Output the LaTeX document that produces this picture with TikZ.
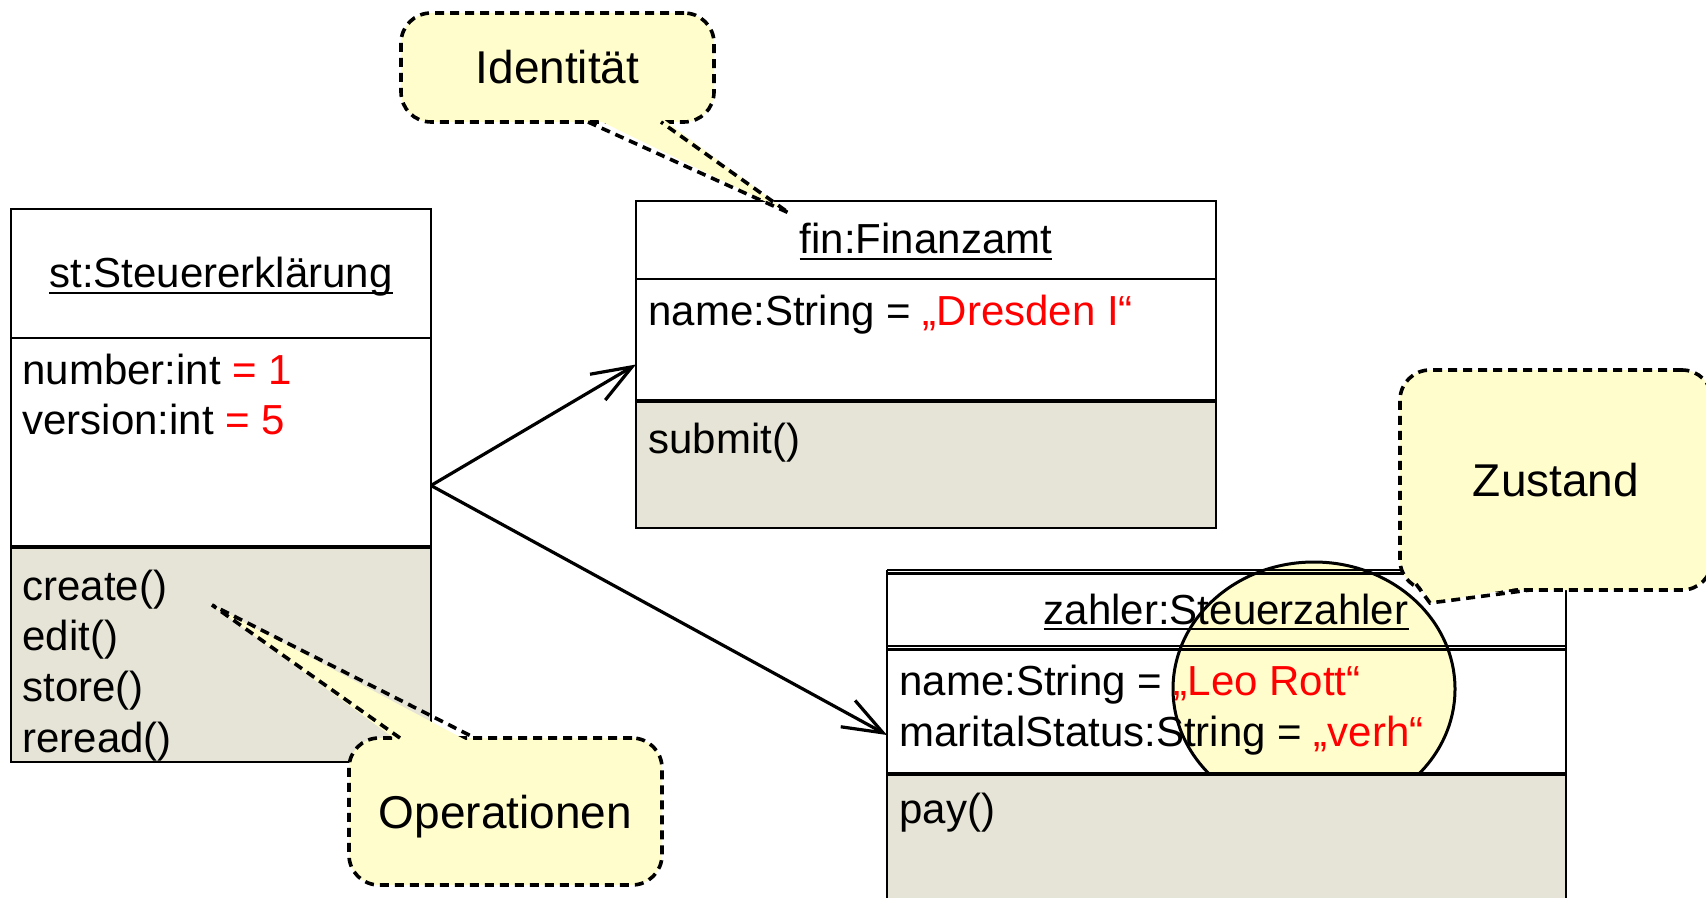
\documentclass[tikz,border=0pt]{standalone}
\usepackage{fontspec}
\setmainfont{Liberation Sans}
\usetikzlibrary{arrows.meta}
\definecolor{opfill}{HTML}{E6E4D6}
\definecolor{notefill}{HTML}{FFFDCC}
\definecolor{valred}{HTML}{FF0000}
\begin{document}
\begin{tikzpicture}[x=0.5pt,y=-0.5pt,
  boxtext/.style={anchor=base west, inner sep=0pt, font=\fontsize{21}{25}\selectfont},
  titletext/.style={anchor=base, inner sep=0pt, font=\fontsize{21}{25}\selectfont},
  anchorbox/.style={inner sep=0pt, outer sep=0pt},
  frame/.style={line width=1.25pt},
  opsep/.style={line width=2.2pt},
  note/.style={draw, dash pattern=on 4.5pt off 3pt, line width=1.8pt, fill=notefill,
     rounded corners=15pt, inner sep=0pt, font=\fontsize{23}{27}\selectfont},
  notelabel/.style={inner sep=0pt, font=\fontsize{23}{27}\selectfont},
  notetip/.style={dash pattern=on 4.5pt off 3pt, line width=1.8pt},
  link/.style={line width=1.6pt, -{Straight Barb[length=20pt,width=15pt,line width=1.6pt]}},
]
\useasboundingbox (0,0) rectangle (1706,898);
\clip (0,0) rectangle (1706,898);
\fill[white] (0,0) rectangle (1706,898);

% ---------- st:Steuererklaerung ----------
\node[anchorbox, minimum width=210pt, minimum height=276.5pt] (st) at (221,485.5) {};
\fill[white] (11,209) rectangle (431,547);
\fill[opfill] (11,547) rectangle (431,762);
\draw[frame] (11,338) -- (431,338);
\draw[opsep] (11,547) -- (431,547);
\draw[frame] (11,209) rectangle (431,762);
\node[titletext] (stt) at (221,288) {st:Steuererklärung};
\draw[line width=0.9pt] ([yshift=-2.6pt]stt.base west) -- ([yshift=-2.6pt]stt.base east);
\node[boxtext] (st1) at (22,384) {number:int \textcolor{valred}{= 1}};
\node[boxtext] (st2) at (22,434) {version:int \textcolor{valred}{= 5}};
\node[boxtext] (st3) at (22,600) {create()};
\node[boxtext] (st4) at (22,650) {edit()};
\node[boxtext] (st5) at (22,701) {store()};
\node[boxtext] (st6) at (22,752) {reread()};

% ---------- fin:Finanzamt ----------
\node[anchorbox, minimum width=290pt, minimum height=163.5pt] (fin) at (926,364.5) {};
\fill[white] (636,201) rectangle (1216,401);
\fill[opfill] (636,401) rectangle (1216,528);
\draw[frame] (636,279) -- (1216,279);
\draw[opsep] (636,401) -- (1216,401);
\draw[frame] (636,201) rectangle (1216,528);
\node[titletext] (fint) at (926,254) {fin:Finanzamt};
\draw[line width=0.9pt] ([yshift=-2.6pt]fint.base west) -- ([yshift=-2.6pt]fint.base east);
\node[boxtext] (fin1) at (648,326) {name:String = \textcolor{valred}{„Dresden I“}};
\node[boxtext] (fin2) at (648,453) {submit()};

% ---------- zahler:Steuerzahler ----------
\node[anchorbox, minimum width=339.5pt, minimum height=165pt] (zahler) at (1226.5,735) {};
\fill[white] (887,570) rectangle (1566,774);
\begin{scope}
  \clip (880,500) rectangle (1570,774);
  \draw[line width=1.5pt, fill=notefill] (1314,689) ellipse [x radius=70.5pt, y radius=63.5pt];
\end{scope}
\draw[frame] (887,570) -- (1566,570);
\draw[frame] (887,573.5) -- (1566,573.5);
\draw[frame] (887,646) -- (1566,646);
\draw[frame] (887,649.5) -- (1566,649.5);
\fill[opfill] (887,774) rectangle (1566,900);
\draw[opsep] (887,774) -- (1566,774);
\draw[frame] (887,570) -- (887,900);
\draw[frame] (1566,570) -- (1566,900);
\node[titletext] (zt) at (1226,624) {zahler:Steuerzahler};
\draw[line width=0.9pt] ([yshift=-2.6pt]zt.base west) -- ([yshift=-2.6pt]zt.base east);
\node[boxtext] (z1) at (899,695) {name:String = \textcolor{valred}{„Leo Rott“}};
\node[boxtext] (z2) at (899,746) {maritalStatus:String = \textcolor{valred}{„verh“}};
\node[boxtext] (z3) at (899,823) {pay()};

% ---------- links ----------
\draw[link] (st.east) -- (fin.west);
\draw[link] (st.east) -- (zahler.west);

% ---------- notes ----------
\node[note, minimum width=156.5pt, minimum height=54.5pt] (idn) at (557.5,67.5) {Identität};
\coordinate (idtip) at (789,213);
\fill[notefill] (590,116) -- (idtip) -- (659,116) -- cycle;
\draw[notetip] (588,122) -- (idtip) -- (661,122);

\node[note, minimum width=156.5pt, minimum height=73.5pt] (opn) at (505.5,811.5) {};
\node[notelabel] (opl) at (505.5,817) {Operationen};
\coordinate (optip) at (212,605);
\fill[notefill] (402,744) -- (optip) -- (473,744) -- cycle;
\draw[notetip] (400,738) -- (optip) -- (475,738);

\node[note, minimum width=156pt, minimum height=110pt] (zun) at (1556,480) {Zustand};
\coordinate (zutip) at (1430,603);
\fill[notefill] (1418,582) -- (zutip) -- (1528,586) -- cycle;
\draw[notetip] (1416,584) -- (zutip) -- (1530,590);
\end{tikzpicture}
\end{document}
